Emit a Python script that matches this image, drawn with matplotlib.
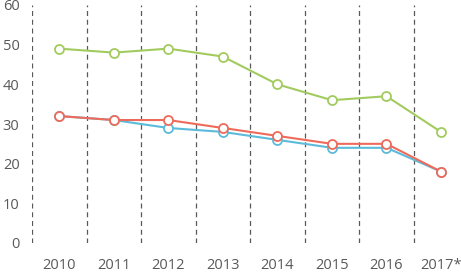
import matplotlib
matplotlib.use("Agg")
import matplotlib.pyplot as plt

years = ["2010", "2011", "2012", "2013", "2014", "2015", "2016", "2017*"]
green = [49, 48, 49, 47, 40, 36, 37, 28]
red = [32, 31, 31, 29, 27, 25, 25, 18]
blue = [32, 31, 29, 28, 26, 24, 24, 18]
yticks = [0, 10, 20, 30, 40, 50, 60]

plt.rcParams['font.family'] = ['Open Sans', 'DejaVu Sans']

fig = plt.figure(figsize=(4.61, 2.72), dpi=100)
ax = fig.add_axes([32/461, 1-243/272, 1-32/461, (243-5)/272])

x = list(range(len(years)))
for i in range(len(years)):
    ax.axvline(i - 0.5, color="#595959", lw=0.9, ls=(0, (4, 3)), zorder=1)

for vals, col in [(blue, "#5BBBDA"), (red, "#EE6A5A"), (green, "#A2CB5F")]:
    ax.plot(x, vals, color=col, lw=1.5, marker="o", ms=6.5, mfc="white",
            mec=col, mew=1.3, zorder=3)

ax.set_xlim(-0.5, 7 + (461 - 441) / 54.6)
ax.set_ylim(0, 60)
ax.set_xticks(x)
ax.set_xticklabels(years)
ax.set_yticks(yticks)
for s in ax.spines.values():
    s.set_visible(False)
ax.tick_params(axis="both", length=0, labelsize=10.5, labelcolor="#595959")
ax.tick_params(axis="x", pad=11)
ax.tick_params(axis="y", pad=9)

fig.savefig("out.png", dpi=100)
